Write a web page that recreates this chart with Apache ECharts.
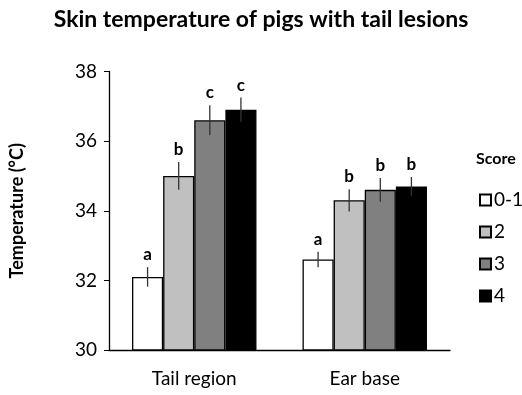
<!DOCTYPE html>
<html><head><meta charset="utf-8">
<script src="https://cdn.jsdelivr.net/npm/echarts@6/dist/echarts.min.js"></script>
<style>html,body{margin:0;padding:0;background:#fff}#c{width:522px;height:395px}</style>
</head><body><div id="c"></div>
<script>
var categories = ['Tail region', 'Ear base'];
var scores = ['0-1', '2', '3', '4'];
var colors = ['#ffffff', '#c0c0c0', '#808080', '#000000'];
var means = [
  [32.1, 32.6],
  [35.0, 34.3],
  [36.6, 34.6],
  [36.9, 34.7]
];
var errors = [
  [0.28, 0.22],
  [0.40, 0.32],
  [0.43, 0.34],
  [0.35, 0.27]
];
var letters = [
  ['a', 'a'],
  ['b', 'b'],
  ['c', 'b'],
  ['c', 'b']
];
var yTicks = [30, 32, 34, 36, 38];

var FONT = 'Lato';
var catGap = 0.27;
var series = [];
scores.forEach(function (s, i) {
  series.push({
    name: s, type: 'bar', data: means[i],
    barGap: '0%', barCategoryGap: (catGap * 100) + '%',
    itemStyle: { color: colors[i], borderColor: '#000', borderWidth: 1.3 },
    emphasis: { disabled: true }
  });
});
var errData = [];
scores.forEach(function (s, i) {
  categories.forEach(function (c, j) {
    errData.push([j, means[i][j], errors[i][j], i, letters[i][j]]);
  });
});
series.push({
  type: 'custom', name: 'err', silent: true, z: 10,
  data: errData,
  renderItem: function (params, api) {
    var j = api.value(0), m = api.value(1), e = api.value(2), i = api.value(3);
    var band = api.size([1, 0])[0];
    var bw = band * (1 - catGap) / scores.length;
    var c = api.coord([j, m]);
    var x = c[0] + (i - (scores.length - 1) / 2) * bw;
    var top = api.coord([j, m + e])[1];
    var bot = api.coord([j, m - e])[1];
    return {
      type: 'group', children: [
        { type: 'line', shape: { x1: x, y1: top, x2: x, y2: bot }, style: { stroke: '#333', lineWidth: 1.3 } },
        { type: 'text', style: { x: x, y: top - 4, text: letters[i][j], textAlign: 'center', textVerticalAlign: 'bottom', font: 'bold 17px ' + FONT, fill: '#000' } }
      ]
    };
  },
  encode: { x: 0, y: 1 }
});

var chart = echarts.init(document.getElementById('c'));
chart.setOption({
  animation: false,
  backgroundColor: '#fff',
  title: [
    { text: 'Skin temperature of pigs with tail lesions', left: 'center', top: 3,
      textStyle: { fontFamily: FONT, fontWeight: 'bold', fontSize: 23, color: '#000' } },
    { text: 'Score', left: 471, top: 146,
      textStyle: { fontFamily: FONT, fontWeight: 'bold', fontSize: 16, color: '#000' } }
  ],
  legend: {
    data: scores, orient: 'vertical', left: 474, top: 185,
    icon: 'rect', itemWidth: 11, itemHeight: 11, itemGap: 12,
    textStyle: { fontFamily: FONT, fontSize: 19, color: '#000', lineHeight: 20, padding: [0, 0, 0, -2] },
    selectedMode: false
  },
  grid: { left: 105, right: 72, top: 71.5, bottom: 45, containLabel: false },
  xAxis: {
    type: 'category', data: categories,
    axisLine: { lineStyle: { color: '#000', width: 1.3 } },
    axisTick: { show: false },
    axisLabel: { fontFamily: FONT, fontSize: 19, color: '#000', margin: 19 }
  },
  yAxis: {
    type: 'value', min: yTicks[0], max: yTicks[yTicks.length - 1], interval: 2,
    name: 'Temperature (°C)', nameLocation: 'middle', nameGap: 83,
    nameTextStyle: { fontFamily: FONT, fontWeight: 'bold', fontSize: 18, color: '#000' },
    axisLine: { show: true, lineStyle: { color: '#000', width: 1.3 } },
    axisTick: { show: true, length: 5, lineStyle: { color: '#000' } },
    splitLine: { show: false },
    axisLabel: { fontFamily: FONT, fontSize: 19, color: '#000', margin: 12 }
  },
  series: series
});
</script></body></html>
